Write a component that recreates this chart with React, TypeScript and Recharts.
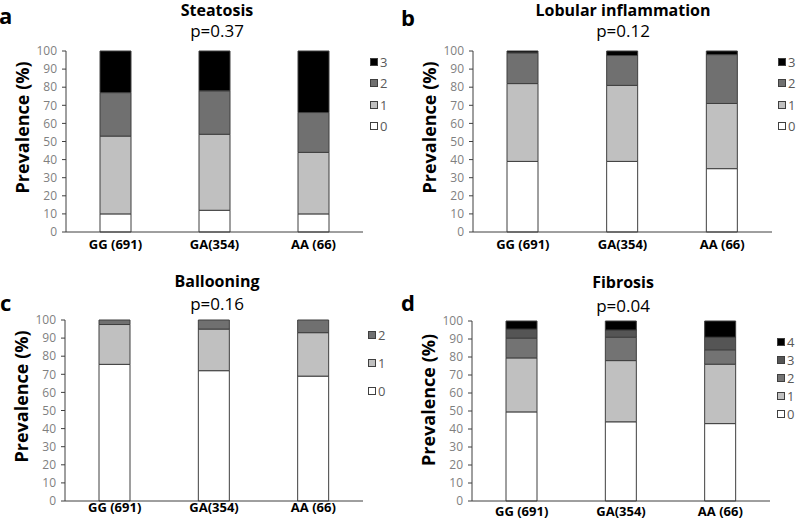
import { BarChart, Bar, XAxis, YAxis, Legend } from "recharts";

const genotypes = ["GG (691)", "GA(354)", "AA (66)"];
const yTicks = [0, 10, 20, 30, 40, 50, 60, 70, 80, 90, 100];

// share of patients per grade (%), bottom segment first
const steatosis0 = [10, 12, 10];
const steatosis1 = [43, 42, 34];
const steatosis2 = [24, 24, 22];
const steatosis3 = [23, 22, 34];

const lobular0 = [39, 39, 35];
const lobular1 = [43, 42, 36];
const lobular2 = [17, 16.5, 27];
const lobular3 = [1, 2.5, 2];

const ballooning0 = [75.5, 72, 69];
const ballooning1 = [22, 23, 24];
const ballooning2 = [2.5, 5, 7];

const fibrosis0 = [49.5, 44, 43];
const fibrosis1 = [30, 34, 33];
const fibrosis2 = [11, 13, 8];
const fibrosis3 = [5, 4, 7];
const fibrosis4 = [4.5, 5, 9];

const FONT = "'Open Sans', sans-serif";
const EDGE = "#3f3f3f";

type PanelCfg = {
  letter: string;
  title: string;
  p: string;
  series: number[][];
  colors: string[];
  left: number;
  top: number;
  width: number;
  height: number;
  yAxisWidth: number;
  margin: { top: number; right: number; bottom: number; left: number };
  xAxisHeight: number;
  xTickMargin: number;
  titleX: number;
  titleTop: number;
  pTop: number;
  letterLeft: number;
  letterTop: number;
  labelDy: number;
  legendLeft: number;
  legendTop: number;
  legendGap: number;
};

const panels: PanelCfg[] = [
  {
    letter: "a",
    title: "Steatosis",
    p: "p=0.37",
    series: [steatosis0, steatosis1, steatosis2, steatosis3],
    colors: ["#ffffff", "#c0c0c0", "#707070", "#000000"],
    left: 0, top: 0, width: 398, height: 262,
    yAxisWidth: 66,
    margin: { top: 51, right: 35, bottom: 0, left: 0 },
    xAxisHeight: 30, xTickMargin: 8,
    titleX: 217, titleTop: -0.5, pTop: 21,
    letterLeft: -1, letterTop: 1.5,
    labelDy: -14,
    legendLeft: 370, legendTop: 51, legendGap: 21.5,
  },
  {
    letter: "b",
    title: "Lobular inflammation",
    p: "p=0.12",
    series: [lobular0, lobular1, lobular2, lobular3],
    colors: ["#ffffff", "#c0c0c0", "#707070", "#000000"],
    left: 400, top: 0, width: 396, height: 262,
    yAxisWidth: 73,
    margin: { top: 51, right: 24, bottom: 0, left: 0 },
    xAxisHeight: 30, xTickMargin: 8,
    titleX: 223, titleTop: -0.5, pTop: 21,
    letterLeft: 1, letterTop: 3.5,
    labelDy: -14,
    legendLeft: 378, legendTop: 51, legendGap: 21.5,
  },
  {
    letter: "c",
    title: "Ballooning",
    p: "p=0.16",
    series: [ballooning0, ballooning1, ballooning2],
    colors: ["#ffffff", "#c0c0c0", "#707070"],
    left: 0, top: 262, width: 398, height: 262,
    yAxisWidth: 65,
    margin: { top: 58, right: 35, bottom: 0, left: 0 },
    xAxisHeight: 23, xTickMargin: 2,
    titleX: 217, titleTop: 8.5, pTop: 32,
    letterLeft: 0, letterTop: 26.5,
    labelDy: -14,
    legendLeft: 368, legendTop: 59, legendGap: 28,
  },
  {
    letter: "d",
    title: "Fibrosis",
    p: "p=0.04",
    series: [fibrosis0, fibrosis1, fibrosis2, fibrosis3, fibrosis4],
    colors: ["#ffffff", "#c0c0c0", "#737373", "#555555", "#000000"],
    left: 400, top: 262, width: 396, height: 262,
    yAxisWidth: 72,
    margin: { top: 59, right: 26, bottom: 0, left: 0 },
    xAxisHeight: 23, xTickMargin: 6,
    titleX: 223, titleTop: 10, pTop: 34,
    letterLeft: 1, letterTop: 26.5,
    labelDy: -11,
    legendLeft: 377, legendTop: 71, legendGap: 18,
  },
];

function GradeLegend({ payload, gap }: { payload?: any[]; gap: number }) {
  const items = [...(payload || [])].reverse();
  return (
    <div>
      {items.map((entry) => (
        <div
          key={entry.value}
          style={{ height: gap, display: "flex", alignItems: "center", fontSize: 13, color: "#595959", fontFamily: FONT, whiteSpace: "nowrap" }}
        >
          <span
            style={{
              width: 8,
              height: 8,
              boxSizing: "border-box",
              background: entry.color,
              border: `1px solid ${EDGE}`,
              marginRight: 2,
              display: "inline-block",
            }}
          />
          <span>{entry.value}</span>
        </div>
      ))}
    </div>
  );
}

function Panel({ cfg }: { cfg: PanelCfg }) {
  const data = genotypes.map((g, i) => {
    const row: Record<string, string | number> = { genotype: g };
    cfg.series.forEach((s, k) => {
      row["g" + k] = s[i];
    });
    return row;
  });
  const labelDx = cfg.yAxisWidth - 43 - cfg.yAxisWidth / 2;

  return (
    <div style={{ position: "absolute", left: cfg.left, top: cfg.top, width: cfg.width, height: cfg.height }}>
      <div style={{ position: "absolute", left: cfg.letterLeft, top: cfg.letterTop, fontSize: 22, lineHeight: "26px", fontWeight: 700 }}>
        {cfg.letter}
      </div>
      <div style={{ position: "absolute", left: cfg.titleX - 150, width: 300, top: cfg.titleTop, textAlign: "center", fontSize: 16, lineHeight: "20px", fontWeight: 700 }}>
        {cfg.title}
      </div>
      <div style={{ position: "absolute", left: cfg.titleX - 150, width: 300, top: cfg.pTop, textAlign: "center", fontSize: 17, lineHeight: "20px" }}>
        {cfg.p}
      </div>
      <BarChart width={cfg.width} height={cfg.height} data={data} margin={cfg.margin} barSize={31}>
        <XAxis
          dataKey="genotype"
          height={cfg.xAxisHeight}
          axisLine={{ stroke: EDGE }}
          tickLine={false}
          tickSize={0}
          tickMargin={cfg.xTickMargin}
          tick={{ fontSize: 13, fontWeight: 700, fill: "#000" }}
          interval={0}
        />
        <YAxis
          width={cfg.yAxisWidth}
          domain={[0, 100]}
          ticks={yTicks}
          interval={0}
          axisLine={{ stroke: EDGE }}
          tickLine={{ stroke: EDGE }}
          tickSize={4}
          tickMargin={5}
          tick={{ fontSize: 12, fill: "#7f7f7f" }}
          label={{
            value: "Prevalence (%)",
            angle: -90,
            position: "center",
            dx: labelDx,
            dy: cfg.labelDy,
            style: { fontSize: 18, fontWeight: 700, fill: "#000" },
          }}
        />
        <Legend
          layout="vertical"
          align="center"
          verticalAlign="middle"
          wrapperStyle={{ left: cfg.legendLeft, top: cfg.legendTop, width: "auto", height: "auto" }}
          content={(props: any) => <GradeLegend payload={props.payload} gap={cfg.legendGap} />}
        />
        {cfg.series.map((_, k) => (
          <Bar
            key={k}
            dataKey={"g" + k}
            name={String(k)}
            stackId="grade"
            fill={cfg.colors[k]}
            stroke={EDGE}
            strokeWidth={1}
            isAnimationActive={false}
          />
        ))}
      </BarChart>
    </div>
  );
}

export default function App() {
  return (
    <div style={{ position: "absolute", left: 0, top: 0, width: 796, height: 524, background: "#fff", fontFamily: FONT, overflow: "hidden" }}>
      {panels.map((cfg) => (
        <Panel key={cfg.letter} cfg={cfg} />
      ))}
    </div>
  );
}
